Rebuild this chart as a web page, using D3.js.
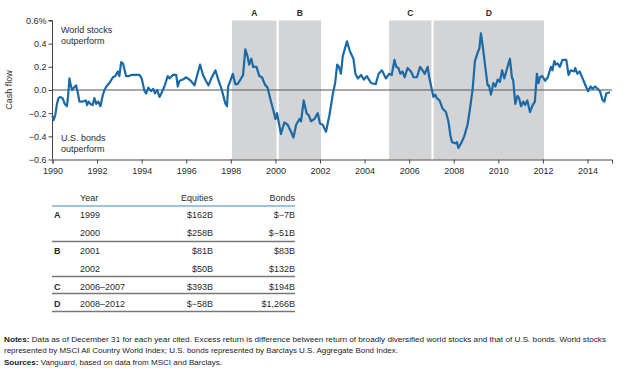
<!DOCTYPE html>
<html><head><meta charset="utf-8">
<script src="https://cdn.jsdelivr.net/npm/d3@7"></script>
<style>
body{margin:0;background:#fff;}
svg{display:block;font-family:"Liberation Sans",Arial,sans-serif;}
</style></head>
<body><svg id="c" width="635" height="381"></svg>
<script>
// ---- data ----
const dates = [1990.00,1990.05,1990.12,1990.20,1990.27,1990.35,1990.45,1990.55,1990.65,1990.70,1990.76,1990.82,1990.88,1990.96,1991.06,1991.13,1991.21,1991.35,1991.50,1991.55,1991.62,1991.70,1991.80,1991.88,1991.96,1992.05,1992.15,1992.25,1992.33,1992.42,1992.55,1992.71,1992.82,1992.93,1993.00,1993.08,1993.16,1993.30,1993.42,1993.55,1993.70,1993.90,1994.00,1994.13,1994.20,1994.30,1994.42,1994.52,1994.60,1994.70,1994.80,1994.88,1995.02,1995.17,1995.25,1995.40,1995.55,1995.62,1995.70,1995.85,1996.00,1996.20,1996.37,1996.45,1996.62,1996.75,1996.88,1997.00,1997.10,1997.31,1997.45,1997.55,1997.65,1997.76,1997.83,1997.88,1997.98,1998.09,1998.20,1998.30,1998.40,1998.55,1998.65,1998.75,1998.82,1998.92,1999.00,1999.15,1999.28,1999.40,1999.52,1999.65,1999.79,1999.90,2000.00,2000.07,2000.25,2000.40,2000.55,2000.70,2000.81,2000.93,2001.08,2001.15,2001.27,2001.40,2001.50,2001.60,2001.75,2001.90,2002.00,2002.12,2002.27,2002.42,2002.50,2002.57,2002.68,2002.77,2002.85,2002.94,2003.02,2003.21,2003.35,2003.50,2003.59,2003.70,2003.84,2003.97,2004.10,2004.29,2004.50,2004.63,2004.78,2004.88,2004.96,2005.10,2005.22,2005.34,2005.42,2005.52,2005.60,2005.70,2005.80,2005.93,2006.08,2006.20,2006.35,2006.49,2006.60,2006.70,2006.83,2006.90,2007.01,2007.09,2007.17,2007.24,2007.36,2007.50,2007.65,2007.76,2007.85,2007.92,2008.07,2008.14,2008.21,2008.33,2008.47,2008.62,2008.73,2008.85,2008.95,2009.07,2009.15,2009.22,2009.30,2009.42,2009.52,2009.58,2009.67,2009.78,2009.87,2009.97,2010.07,2010.17,2010.27,2010.37,2010.46,2010.52,2010.61,2010.67,2010.76,2010.86,2010.93,2011.02,2011.12,2011.20,2011.30,2011.42,2011.54,2011.64,2011.73,2011.80,2011.87,2011.97,2012.10,2012.22,2012.36,2012.43,2012.51,2012.58,2012.66,2012.76,2012.88,2013.05,2013.15,2013.25,2013.40,2013.45,2013.55,2013.65,2013.78,2013.93,2014.03,2014.14,2014.24,2014.34,2014.46,2014.56,2014.68,2014.76,2014.84,2015.01];
const cashFlow = [-0.22,-0.26,-0.22,-0.12,-0.07,-0.06,-0.07,-0.12,-0.14,-0.05,0.10,0.04,0.00,0.02,0.04,-0.02,-0.10,-0.10,-0.09,-0.13,-0.10,-0.12,-0.13,-0.07,-0.12,-0.10,-0.14,-0.05,0.00,0.03,0.06,0.11,0.12,0.16,0.12,0.24,0.23,0.12,0.12,0.13,0.13,0.13,0.10,-0.01,-0.03,0.02,-0.01,0.01,-0.03,0.00,-0.06,-0.03,0.03,0.12,0.10,0.13,0.13,0.03,0.08,0.09,0.11,0.08,0.04,0.10,0.22,0.13,0.08,0.04,0.09,0.17,0.08,0.03,-0.04,-0.12,-0.14,0.03,0.08,0.14,0.05,0.05,0.08,0.13,0.35,0.29,0.22,0.27,0.20,0.20,0.12,0.11,0.05,0.02,-0.09,-0.17,-0.25,-0.20,-0.38,-0.28,-0.30,-0.36,-0.41,-0.30,-0.25,-0.27,-0.09,-0.20,-0.22,-0.27,-0.25,-0.20,-0.29,-0.30,-0.36,-0.22,-0.13,-0.04,0.06,0.22,0.20,0.14,0.29,0.42,0.33,0.27,0.14,0.10,0.13,0.09,0.12,0.06,0.05,0.14,0.17,0.13,0.10,0.14,0.13,0.26,0.20,0.19,0.14,0.16,0.11,0.19,0.16,0.11,0.11,0.20,0.17,0.14,0.20,0.11,0.01,-0.06,-0.04,-0.07,-0.09,-0.16,-0.19,-0.27,-0.39,-0.45,-0.46,-0.45,-0.50,-0.46,-0.40,-0.30,-0.16,0.01,0.25,0.32,0.36,0.49,0.38,0.19,0.04,0.04,-0.04,0.06,0.03,0.09,0.07,0.17,0.10,0.17,0.23,0.27,0.11,0.08,-0.12,-0.05,-0.07,-0.14,-0.10,-0.13,-0.09,-0.19,-0.13,-0.10,0.14,0.06,0.11,0.12,0.08,0.11,0.20,0.17,0.25,0.22,0.23,0.20,0.26,0.26,0.13,0.17,0.16,0.19,0.14,0.16,0.10,0.03,-0.01,0.03,0.01,0.03,0.01,-0.01,-0.09,-0.10,-0.03,-0.02];

const periodLabels = ["A","B","C","D"];
const periodStart = [1998.05,2000.15,2005.1,2007.1];
const periodEnd   = [2000.05,2002.05,2007.0,2012.05];

const yTicks = [0.6,0.4,0.2,0.0,-0.2,-0.4,-0.6];
const yTickLabels = ["0.6%","0.4","0.2","0.0","\u22120.2","\u22120.4","\u22120.6"];
const xTicks = [1990,1992,1994,1996,1998,2000,2002,2004,2006,2008,2010,2012,2014];

const tableHeader = ["Year","Equities","Bonds"];
const tableLetter = ["A","","B","","C","D"];
const tableYear = ["1999","2000","2001","2002","2006\u20132007","2008\u20132012"];
const tableEquities = ["$162B","$258B","$81B","$50B","$393B","$\u221258B"];
const tableBonds = ["$\u22127B","$\u221251B","$83B","$132B","$194B","$1,266B"];

const notes1 = "Data as of December 31 for each year cited. Excess return is difference between return of broadly diversified world stocks and that of U.S. bonds. World stocks";
const notes2 = "represented by MSCI All Country World Index; U.S. bonds represented by Barclays U.S. Aggregate Bond Index.";
const sources = "Vanguard, based on data from MSCI and Barclays.";

// ---- chart ----
const svg = d3.select("#c");
const x = d3.scaleLinear().domain([1990, 2015.1]).range([52.5, 612]);
const y = d3.scaleLinear().domain([-0.6, 0.6]).range([159.5, 20.5]);
const txt = "#2b2b2b";

// shading
svg.append("g").selectAll("rect").data(periodLabels).join("rect")
  .attr("x", (d,i)=>x(periodStart[i])).attr("width",(d,i)=>x(periodEnd[i])-x(periodStart[i]))
  .attr("y", y(0.6)).attr("height", y(-0.6)-y(0.6)).attr("fill","#d3d4d6");
svg.append("g").selectAll("text").data(periodLabels).join("text")
  .attr("x",(d,i)=>(x(periodStart[i])+x(periodEnd[i]))/2).attr("y",16)
  .attr("text-anchor","middle").attr("font-size",8.5).attr("font-weight","bold").attr("fill",txt).text(d=>d);

// zero line
svg.append("line").attr("x1",x(1990)).attr("x2",x(2015.1)).attr("y1",y(0)).attr("y2",y(0))
  .attr("stroke","#555").attr("stroke-width",1.2);

// axes
const yAxis = d3.axisLeft(y).tickValues(yTicks).tickSize(4).tickFormat((d,i)=>yTickLabels[i]);
const gy = svg.append("g").attr("transform",`translate(${x(1990)},0)`).call(yAxis);
const xAxis = d3.axisBottom(x).tickValues(xTicks).tickSize(4).tickFormat(d3.format("d"));
const gx = svg.append("g").attr("transform",`translate(0,${y(-0.6)})`).call(xAxis);
[gy,gx].forEach(g=>{
  g.select(".domain").attr("stroke","#444").attr("stroke-width",1);
  g.selectAll(".tick line").attr("stroke","#444");
  g.selectAll("text").attr("font-size",9).attr("fill",txt).attr("font-family","Liberation Sans, Arial, sans-serif");
});
gy.selectAll("text").attr("x",-6);
gy.select(".domain").attr("d",`M-4,${y(0.6)}H0V${y(-0.6)}`);
gx.selectAll("text").attr("dy","0.85em");

// y-axis title
svg.append("text").attr("transform","translate(12,90) rotate(-90)").attr("text-anchor","middle")
  .attr("font-size",9).attr("fill",txt).text("Cash flow");

// annotations
const ann = [["World stocks",33],["outperform",44],["U.S. bonds",141],["outperform",152]];
svg.append("g").selectAll("text").data(ann).join("text").attr("x",61).attr("y",d=>d[1])
  .attr("font-size",9).attr("fill",txt).text(d=>d[0]);

// line
const line = d3.line().x((d,i)=>x(dates[i])).y(d=>y(d)).curve(d3.curveLinear);
svg.append("path").datum(cashFlow).attr("d",line).attr("fill","none")
  .attr("stroke","#1b6aa8").attr("stroke-width",2.2).attr("stroke-linejoin","round");

// ---- table ----
const tb = svg.append("g");
const colX = {letter:54, year:80, eq:213, bd:295};
const fs = 9;
tb.append("text").attr("x",colX.year).attr("y",201).attr("font-size",fs).attr("fill",txt).text(tableHeader[0]);
tb.append("text").attr("x",colX.eq).attr("y",201).attr("font-size",fs).attr("fill",txt).attr("text-anchor","end").text(tableHeader[1]);
tb.append("text").attr("x",colX.bd).attr("y",201).attr("font-size",fs).attr("fill",txt).attr("text-anchor","end").text(tableHeader[2]);
tb.append("line").attr("x1",52).attr("x2",295).attr("y1",206).attr("y2",206).attr("stroke","#3f86c6").attr("stroke-width",1.2);
const rowY = [217.5,235.5,254,271.5,289.5,306.5];
tableYear.forEach((yr,i)=>{
  tb.append("text").attr("x",colX.letter).attr("y",rowY[i]).attr("font-size",fs).attr("font-weight","bold").attr("fill",txt).text(tableLetter[i]);
  tb.append("text").attr("x",colX.year).attr("y",rowY[i]).attr("font-size",fs).attr("fill",txt).text(yr);
  tb.append("text").attr("x",colX.eq).attr("y",rowY[i]).attr("font-size",fs).attr("fill",txt).attr("text-anchor","end").text(tableEquities[i]);
  tb.append("text").attr("x",colX.bd).attr("y",rowY[i]).attr("font-size",fs).attr("fill",txt).attr("text-anchor","end").text(tableBonds[i]);
});
[241.5,276.5,293.5,311.5].forEach(yy=>{
  tb.append("line").attr("x1",52).attr("x2",295).attr("y1",yy).attr("y2",yy).attr("stroke","#777").attr("stroke-width",1.5);
});

// ---- notes ----
const nt = svg.append("g").attr("font-family","'Liberation Sans Narrow','Arial Narrow',sans-serif").attr("font-size",7.4).attr("fill","#222");
const l1 = nt.append("text").attr("x",4).attr("y",342).attr("textLength",602).attr("lengthAdjust","spacingAndGlyphs");
l1.append("tspan").attr("font-weight","bold").text("Notes: ");
l1.append("tspan").text(notes1);
nt.append("text").attr("x",4).attr("y",353).attr("textLength",394).attr("lengthAdjust","spacingAndGlyphs").text(notes2);
const l3 = nt.append("text").attr("x",4).attr("y",365).attr("textLength",218).attr("lengthAdjust","spacingAndGlyphs");
l3.append("tspan").attr("font-weight","bold").text("Sources: ");
l3.append("tspan").text(sources);
</script></body></html>
